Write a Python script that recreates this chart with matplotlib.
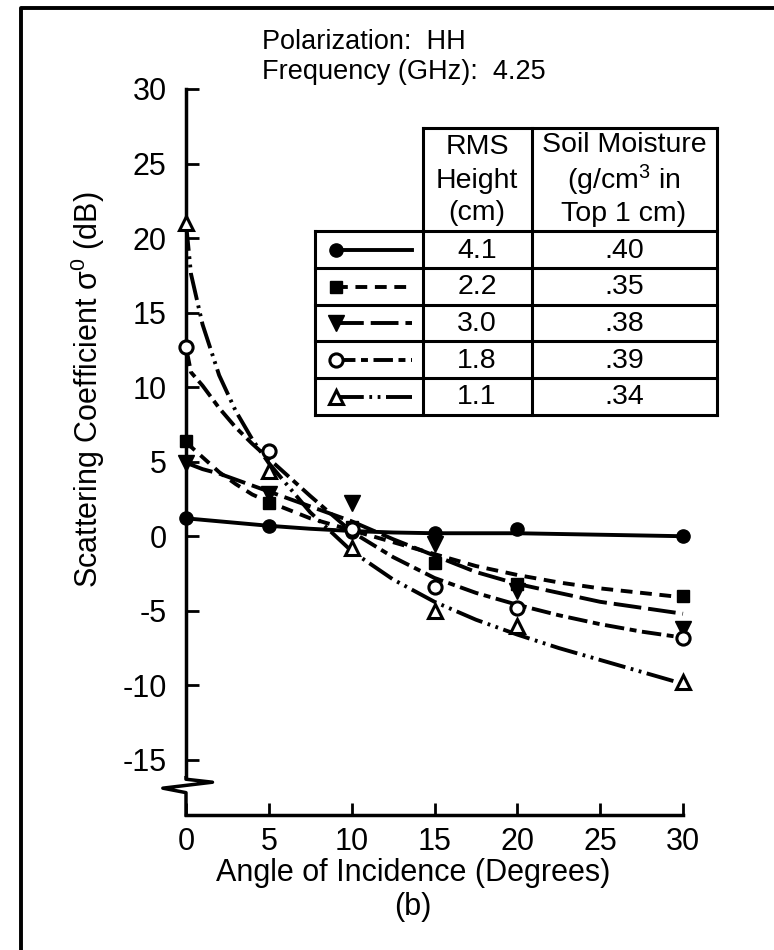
import numpy as np
import matplotlib
matplotlib.use('Agg')
import matplotlib.pyplot as plt

plt.rcParams['font.family'] = ['Liberation Sans', 'DejaVu Sans']
plt.rcParams['mathtext.fontset'] = 'custom'
plt.rcParams['mathtext.rm'] = 'Liberation Sans'
plt.rcParams['mathtext.it'] = 'Liberation Sans:italic'
plt.rcParams['lines.scale_dashes'] = False

# legend table
rms_height = ['4.1', '2.2', '3.0', '1.8', '1.1']
soil_moisture = ['.40', '.35', '.38', '.39', '.34']

# measured points, sigma0 (dB) vs angle (deg)
angles = [0, 5, 10, 15, 20, 30]
pts_41 = [1.2, 0.7, 0.3, 0.2, 0.5, 0.0]
pts_22 = [6.4, 2.2, 0.6, -1.8, -3.2, -4.0]
pts_30 = [4.9, 2.8, 2.2, -0.5, -3.7, -6.2]
pts_18 = [12.7, 5.7, 0.5, -3.4, -4.8, -6.8]
pts_11 = [21.0, 4.4, -0.8, -5.0, -6.0, -9.8]

# fitted curves
fit_angles = [0, 0.3, 1, 2, 3, 4, 5, 7.5, 10, 12.5, 15, 17.5, 20, 22.5, 25, 27.5, 30]
fit_41 = [1.2, 1.17, 1.1, 1.0, 0.9, 0.8, 0.7, 0.5, 0.35, 0.25, 0.2, 0.2, 0.2, 0.15, 0.1, 0.05, 0.0]
fit_22 = [6.3, 6.0, 5.3, 4.3, 3.5, 2.8, 2.3, 1.2, 0.4, -0.4, -1.2, -2.0, -2.6, -3.1, -3.5, -3.8, -4.1]
fit_30 = [4.9, 4.8, 4.5, 4.2, 3.8, 3.4, 3.0, 2.0, 1.0, -0.2, -1.3, -2.4, -3.2, -3.8, -4.4, -4.8, -5.2]
fit_18 = [12.7, 11.0, 10.1, 8.6, 7.3, 6.2, 5.2, 2.7, 0.3, -1.4, -2.8, -3.8, -4.6, -5.3, -5.9, -6.4, -6.8]
fit_11 = [21.0, 17.6, 14.2, 10.8, 8.4, 6.5, 4.9, 1.6, -1.0, -2.9, -4.4, -5.6, -6.6, -7.5, -8.3, -9.1, -9.9]

series = [
    (pts_41, fit_41, dict(marker='o', ms=9.5, mfc='black'), '-'),
    (pts_22, fit_22, dict(marker='s', ms=8.5, mfc='black'), (0, (8.5, 5.5))),
    (pts_30, fit_30, dict(marker='v', ms=11, mfc='black'), (0, (20, 5))),
    (pts_18, fit_18, dict(marker='o', ms=9.5, mfc='white', mew=2.2), (0, (14, 4, 5, 4))),
    (pts_11, fit_11, dict(marker='^', ms=10.5, mfc='white', mew=2.2), (0, (20, 4, 2, 4, 2, 4))),
]

W, H = 774, 950
fig = plt.figure(figsize=(W / 100, H / 100), dpi=100)

# pixel layout of the plot area
x0_px, x30_px = 186, 683
y_top_px, y_bot_px = 86, 815
ax = fig.add_axes([x0_px / W, 1 - y_bot_px / H,
                   (x30_px - x0_px) / W, (y_bot_px - y_top_px) / H])
ax.set_xlim(0, 30)
ax.set_ylim(-18.7, 30.2)

for pts, fit, mk, ls in series:
    ax.plot(fit_angles, fit, color='black', lw=2.8, linestyle=ls, clip_on=False)
    ax.plot(angles, pts, linestyle='none', color='black', mec='black',
            clip_on=False, zorder=3, **mk)

ax.spines['top'].set_visible(False)
ax.spines['right'].set_visible(False)
ax.spines['left'].set_bounds(-16.2, 30)
ax.spines['bottom'].set_bounds(0, 30)
for s in ('left', 'bottom'):
    ax.spines[s].set_linewidth(2.5)

# axis break on the y axis
ax.plot([0, 0, 1.6, -1.4, 0, 0], [-16.2, -16.3, -16.5, -16.9, -17.2, -18.7],
        color='black', lw=2.5, clip_on=False)

ax.set_xticks([0, 5, 10, 15, 20, 25, 30])
ax.set_yticks([-15, -10, -5, 0, 5, 10, 15, 20, 25, 30])
ax.set_yticklabels(['-15', '-10', '-5', '0', '5', '10', '15', '20', '25', '30'])
ax.tick_params(axis='both', direction='in', length=9, width=2, labelsize=22)
ax.tick_params(axis='y', pad=14)
ax.tick_params(axis='x', pad=9)

# overlay in pixel coordinates for the text, table and page frame
ov = fig.add_axes([0, 0, 1, 1])
ov.set_xlim(0, W)
ov.set_ylim(H, 0)
ov.axis('off')

ov.plot([21, 21, W], [H, 8, 8], color='black', lw=2.8)

ov.text(88, 390, r'Scattering Coefficient σ$^0$ (dB)', rotation=90,
        ha='center', va='center', fontsize=22)
ov.text(413, 873, 'Angle of Incidence (Degrees)', ha='center', va='center', fontsize=22)
ov.text(413, 907, '(b)', ha='center', va='center', fontsize=22)
ov.text(262, 42, 'Polarization:  HH', ha='left', va='center', fontsize=19.5)
ov.text(262, 72, 'Frequency (GHz):  4.25', ha='left', va='center', fontsize=19.5)

# table
tl = dict(color='black', lw=2.2, solid_capstyle='projecting')
cx = [315, 423, 532, 717]
ry = [231, 268, 305, 341, 378, 415]
ov.plot([cx[1], cx[3]], [128, 128], **tl)
ov.plot([cx[1], cx[1]], [128, ry[-1]], **tl)
ov.plot([cx[2], cx[2]], [128, ry[-1]], **tl)
ov.plot([cx[3], cx[3]], [128, ry[-1]], **tl)
ov.plot([cx[0], cx[0]], [ry[0], ry[-1]], **tl)
for y in ry:
    ov.plot([cx[0], cx[3]], [y, y], **tl)

ov.text(477, 147, 'RMS', ha='center', va='center', fontsize=20.5)
ov.text(477, 181, 'Height', ha='center', va='center', fontsize=20.5)
ov.text(477, 213, '(cm)', ha='center', va='center', fontsize=20.5)
ov.text(624, 145, 'Soil Moisture', ha='center', va='center', fontsize=20.5)
ov.text(624, 180, r'(g/cm$^3$ in', ha='center', va='center', fontsize=20.5)
ov.text(624, 214, 'Top 1 cm)', ha='center', va='center', fontsize=20.5)

for i, (pts, fit, mk, ls) in enumerate(series):
    yc = (ry[i] + ry[i + 1]) / 2
    ov.plot([336, 412], [yc, yc], color='black', lw=2.8, linestyle=ls)
    ov.plot([336], [yc], linestyle='none', color='black', mec='black', **mk)
    ov.text(477, yc + 1, rms_height[i], ha='center', va='center', fontsize=20.5)
    ov.text(624, yc + 1, soil_moisture[i], ha='center', va='center', fontsize=20.5)

fig.savefig('out.png', dpi=100)
